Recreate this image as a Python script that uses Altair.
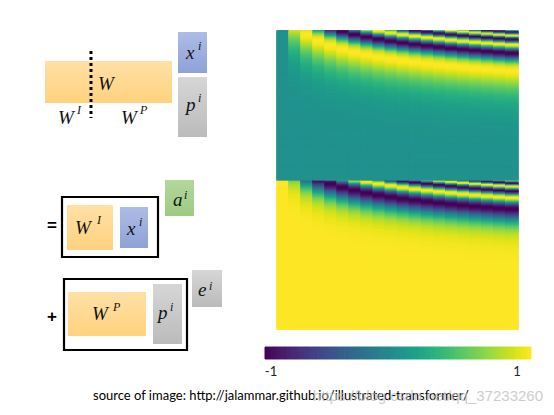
import altair as alt
import numpy as np
import pandas as pd

alt.data_transformers.disable_max_rows()

# ---------------- heatmap (positional encoding: 20 positions, sin half / cos half)
positions = list(range(20))
n_half = 128
sin_rows = list(range(n_half))

recs = []
for p in positions:
    for k in sin_rows:
        w = 10000.0 ** (-k / n_half)
        recs.append({"pos": p, "pos1": p + 1, "row": k, "row1": k + 1, "v": float(np.sin(p * w))})
        recs.append({"pos": p, "pos1": p + 1, "row": n_half + k, "row1": n_half + k + 1, "v": float(np.cos(p * w))})
heat = pd.DataFrame(recs)

# colorbar samples (scale display from -1 to 1)
cb_steps = 120
cb_v = [-1 + 2 * i / cb_steps for i in range(cb_steps)]
cbar = pd.DataFrame({"v": cb_v, "v2": [v + 2 / cb_steps for v in cb_v],
                     "c": [v + 1 / cb_steps for v in cb_v]})

# ---------------- diagram pieces
box_kind = ["orange", "orange", "orange", "blue", "blue", "gray", "gray", "gray", "green", "outline", "outline"]
box_x = [45, 67, 68, 178, 120, 178, 153, 192, 165, 62, 64]
box_x2 = [172, 113, 146, 207, 148, 207, 182, 222, 194, 158, 187]
box_y = [61, 205, 292, 32, 207, 77, 284, 270, 180, 197, 279]
box_y2 = [103, 250, 336, 73, 248, 137, 344, 307, 216, 257, 350]
boxes = pd.DataFrame({"kind": box_kind, "x": box_x, "x2": box_x2, "y": box_y, "y2": box_y2})

base_txt = ["W", "W", "W", "x", "p", "W", "x", "a", "W", "p", "e"]
base_x = [98, 58, 121, 186, 186, 75, 127, 173, 92, 158, 198]
base_y = [84, 118, 118, 53, 105, 228, 229, 200, 314, 313, 290]
sup_txt = ["I", "P", "i", "i", "I", "i", "i", "P", "i", "i"]
sup_x = [77, 140, 198, 198, 97, 139, 184, 113, 170, 209]
sup_y = [110, 110, 46, 98, 220, 222, 195, 307, 307, 286]

sym_txt = ["=", "+"]
sym_x = [52, 52]
sym_y = [226, 317]

cb_labels = ["-1", "1"]
cb_lx = [271, 517]
cb_ly = [372, 372]

caption = "source of image: http://jalammar.github.io/illustrated-transformer/"
watermark = "https://blog.csdn.net/qq_37233260"

XS = alt.Scale(domain=[0, 554], range=[0, 554])
YS = alt.Scale(domain=[0, 415], range=[0, 415])


def X(f):
    return alt.X(f, type="quantitative", scale=XS, axis=None)


def Y(f):
    return alt.Y(f, type="quantitative", scale=YS, axis=None)


def grad(c0, c1):
    return alt.Gradient(gradient="linear", x1=0, x2=0, y1=0, y2=1,
                        stops=[alt.GradientStop(color=c0, offset=0), alt.GradientStop(color=c1, offset=1)])


fills = {
    "orange": ("#FFE0A6", "#FFD27E"),
    "blue": ("#AEBCE5", "#8EA2D8"),
    "gray": ("#D6D6D6", "#BBBBBB"),
    "green": ("#B3D79C", "#9ECA82"),
}

layers = []

vir = alt.Scale(scheme="viridis", domain=[-1, 1])
heat_layer = alt.Chart(heat).mark_rect(strokeWidth=1.3).encode(
    x=alt.X("pos:Q", scale=alt.Scale(domain=[0, 20], range=[277, 518]), axis=None),
    x2="pos1:Q",
    y=alt.Y("row:Q", scale=alt.Scale(domain=[0, 2 * n_half], range=[30.7, 329.3]), axis=None),
    y2="row1:Q",
    color=alt.Color("v:Q", scale=vir, legend=None),
    stroke=alt.Stroke("v:Q", scale=vir, legend=None),
)
layers.append(heat_layer)

cbar_layer = alt.Chart(cbar).mark_rect(strokeWidth=1).encode(
    x=alt.X("v:Q", scale=alt.Scale(domain=[-1, 1], range=[265, 531]), axis=None),
    x2="v2:Q",
    y=alt.value(347),
    y2=alt.value(359),
    color=alt.Color("c:Q", scale=vir, legend=None),
    stroke=alt.Stroke("c:Q", scale=vir, legend=None),
)
layers.append(cbar_layer)

for kind, (c0, c1) in fills.items():
    layers.append(
        alt.Chart(boxes).transform_filter(alt.datum.kind == kind)
        .mark_rect(color=grad(c0, c1))
        .encode(x=X("x"), x2="x2", y=Y("y"), y2="y2")
    )

layers.append(
    alt.Chart(boxes).transform_filter(alt.datum.kind == "outline")
    .mark_rect(fillOpacity=0, stroke="black", strokeWidth=2.2)
    .encode(x=X("x"), x2="x2", y=Y("y"), y2="y2")
)

dots = pd.DataFrame({"x": [91], "y": [51], "y2": [118]})
layers.append(
    alt.Chart(dots).mark_rule(color="black", strokeWidth=3, strokeDash=[3, 3], strokeCap="butt")
    .encode(x=X("x"), y=Y("y"), y2="y2")
)

base_df = pd.DataFrame({"t": base_txt, "x": base_x, "y": base_y})
layers.append(
    alt.Chart(base_df).mark_text(font="Liberation Serif", fontStyle="italic", fontSize=19,
                                 align="left", baseline="middle", color="#111111")
    .encode(x=X("x"), y=Y("y"), text="t:N")
)
sup_df = pd.DataFrame({"t": sup_txt, "x": sup_x, "y": sup_y})
layers.append(
    alt.Chart(sup_df).mark_text(font="Liberation Serif", fontStyle="italic", fontSize=12,
                                align="left", baseline="middle", color="#111111")
    .encode(x=X("x"), y=Y("y"), text="t:N")
)
sym_df = pd.DataFrame({"t": sym_txt, "x": sym_x, "y": sym_y})
layers.append(
    alt.Chart(sym_df).mark_text(font="Liberation Sans", fontWeight="bold", fontSize=17,
                                align="center", baseline="middle", color="black")
    .encode(x=X("x"), y=Y("y"), text="t:N")
)
cb_df = pd.DataFrame({"t": cb_labels, "x": cb_lx, "y": cb_ly})
layers.append(
    alt.Chart(cb_df).mark_text(font="Lato", fontSize=13, align="center", baseline="middle", color="#222222")
    .encode(x=X("x"), y=Y("y"), text="t:N")
)
cap_df = pd.DataFrame({"t": [caption], "x": [93], "y": [396]})
layers.append(
    alt.Chart(cap_df).mark_text(font="Lato", fontSize=13, align="left", baseline="middle", color="black")
    .encode(x=X("x"), y=Y("y"), text="t:N")
)
wm_df = pd.DataFrame({"t": [watermark], "x": [543], "y": [396]})
layers.append(
    alt.Chart(wm_df).mark_text(font="Liberation Sans", fontSize=15, align="right", baseline="middle",
                               color="#bdbdbd", opacity=0.75)
    .encode(x=X("x"), y=Y("y"), text="t:N")
)

chart = alt.layer(*layers).resolve_scale(x="independent", y="independent").properties(
    width=554, height=415, autosize=alt.AutoSizeParams(type="none"), padding=0,
    background="white"
).configure_view(stroke=None)

chart.save("out.html", embed_options={"renderer": "svg", "actions": False})
